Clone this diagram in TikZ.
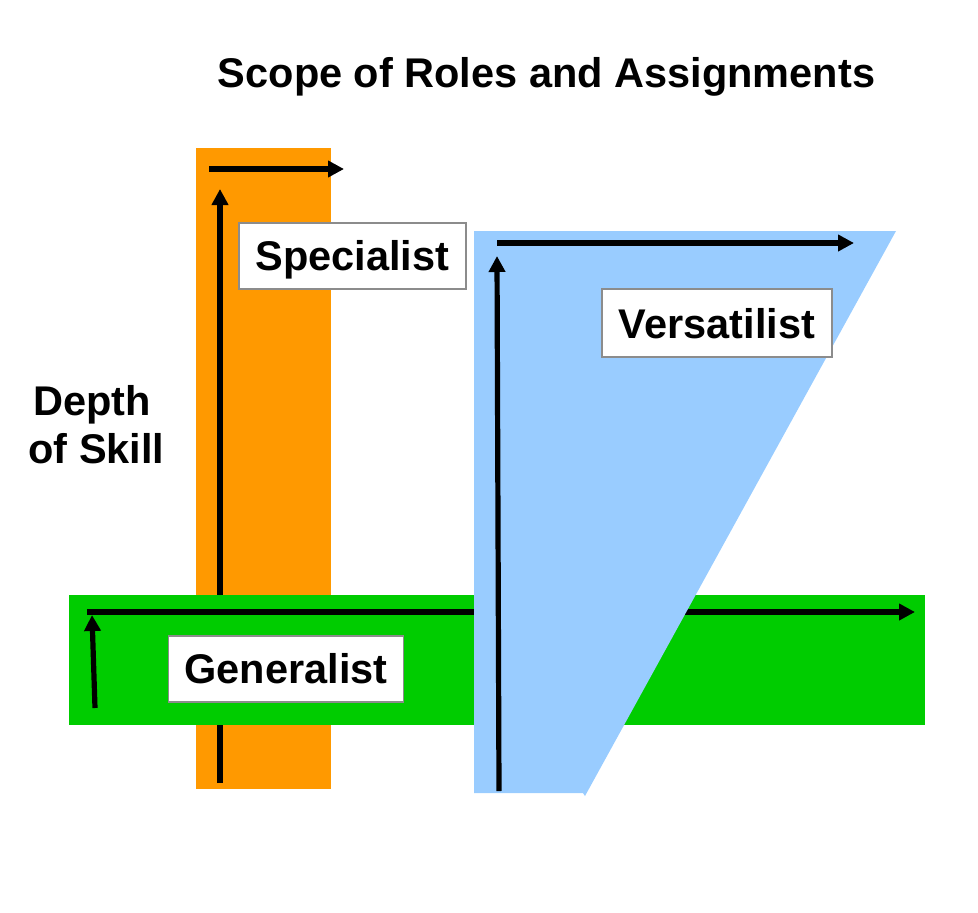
\documentclass[tikz,border=0pt]{standalone}
\usepackage{fontspec}
\setmainfont{Liberation Sans}
\usetikzlibrary{arrows.meta}
\definecolor{orangefill}{HTML}{FF9900}
\definecolor{bluefill}{HTML}{99CCFF}
\definecolor{greenfill}{HTML}{00CC00}
\definecolor{boxgray}{HTML}{8C8C8C}
\tikzset{
  axis/.style={line width=5.2pt,-{Triangle[length=16pt,width=16pt]}},
  label box/.style={draw=boxgray,line width=1.3pt,fill=white,inner sep=0pt,anchor=base,text depth=19pt,font=\bfseries\fontsize{41.5}{44}\selectfont},
  plain text/.style={font=\bfseries\fontsize{41.5}{44}\selectfont,inner sep=0pt,anchor=base}
}
\begin{document}
\begin{tikzpicture}[x=1pt,y=-1pt]
\useasboundingbox (0,0) rectangle (978,913);
% title
\node[plain text] (title) at (546.5,87) {Scope of Roles and Assignments};
\node[plain text] (depth1) at (92,415) {Depth};
\node[plain text] (depth2) at (96.5,463) {of Skill};
% orange specialist bar
\fill[orangefill] (196,148) rectangle (331,789);
\coordinate (so) at (220,783);
\coordinate (st) at (220,189);
\coordinate (sh0) at (209,169);
\coordinate (sh1) at (344,169);
\draw[axis] (so) -- (st);
\draw[axis] (sh0) -- (sh1);
% green generalist bar
\fill[greenfill] (69,595) rectangle (925,725);
\coordinate (go) at (95,708);
\coordinate (gt) at (92,615);
\coordinate (gh0) at (87,612);
\coordinate (gh1) at (915,612);
\draw[axis] (go) -- (gt);
\draw[axis] (gh0) -- (gh1);
% blue versatilist shape
\fill[bluefill] (474,231) -- (896,231) -- (585,796) -- (583,793) -- (474,793) -- cycle;
\coordinate (vo) at (499,791);
\coordinate (vt) at (497,256);
\coordinate (vh0) at (497,243);
\coordinate (vh1) at (854,243);
\draw[axis] (vo) -- (vt);
\draw[axis] (vh0) -- (vh1);
% labels
\node[label box,minimum width=227pt,text height=47pt] (spec) at (352.5,270) {Specialist};
\node[label box,minimum width=230pt,text height=49pt] (vers) at (717,338) {Versatilist};
\node[label box,minimum width=235pt,text height=47pt] (gen) at (286,683) {Generalist};
\end{tikzpicture}
\end{document}
